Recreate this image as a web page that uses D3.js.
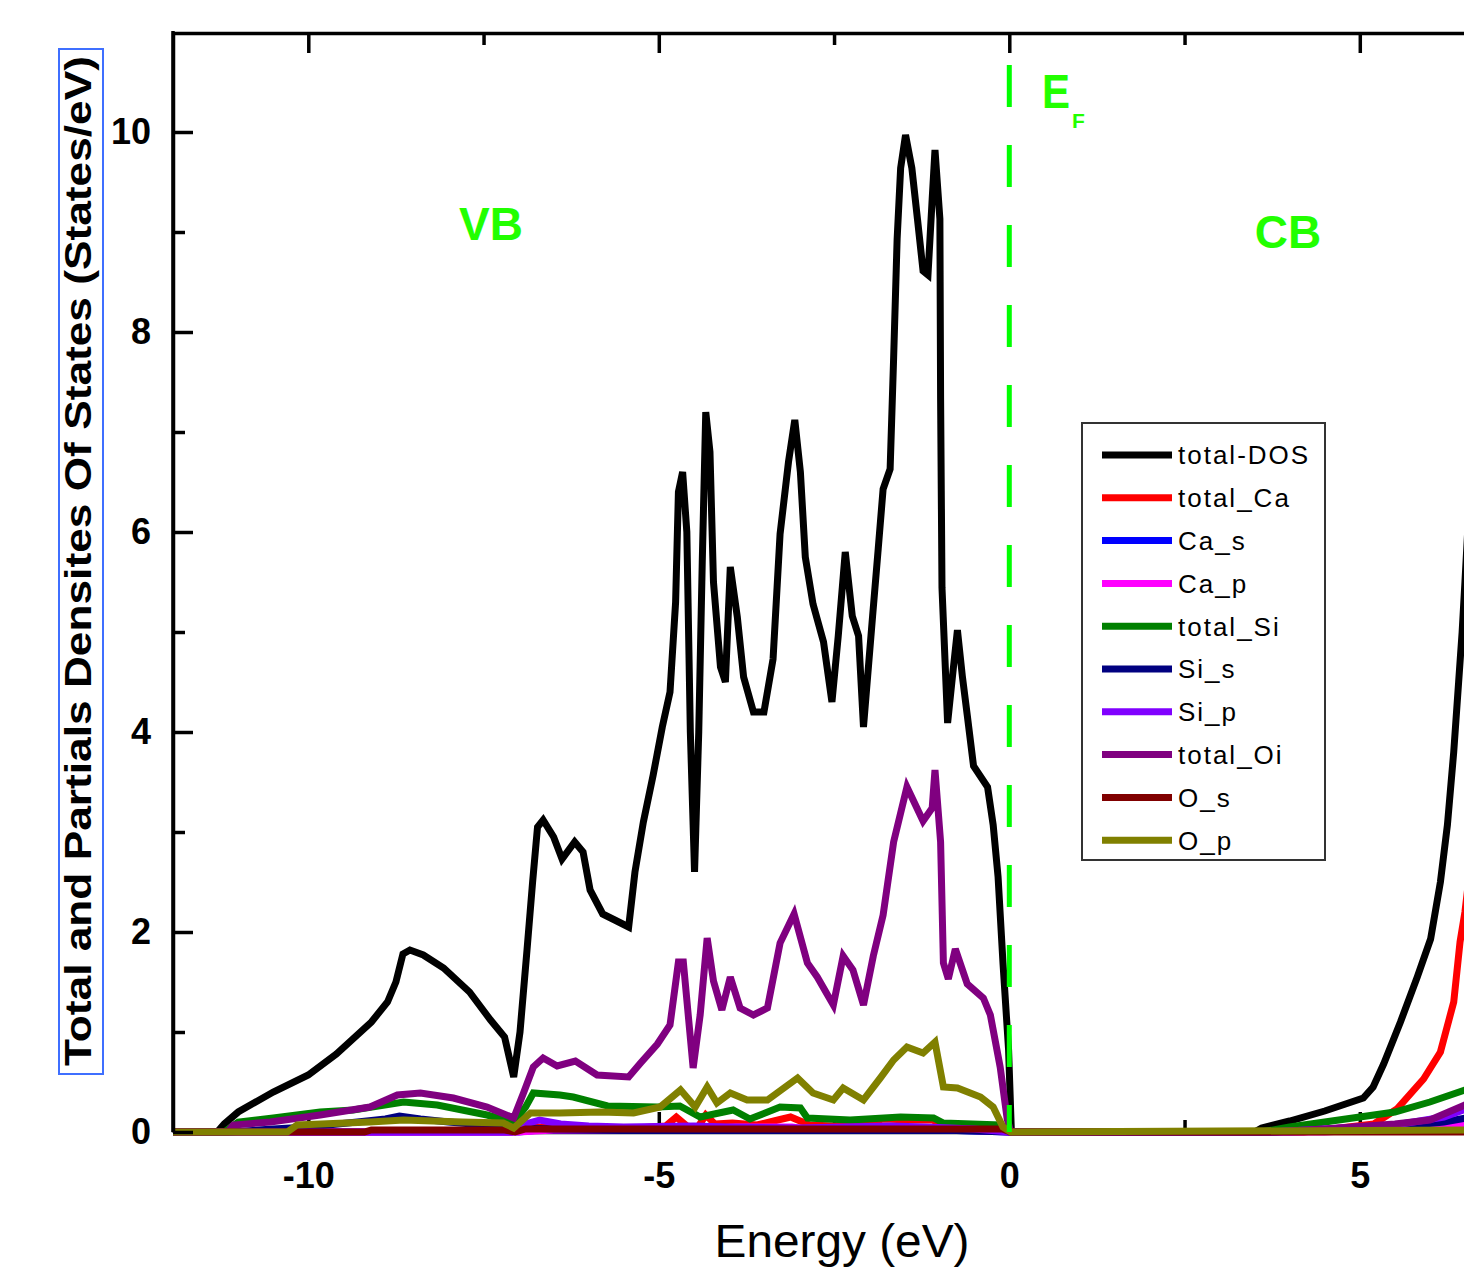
<!DOCTYPE html>
<html>
<head>
<meta charset="utf-8">
<script src="https://cdn.jsdelivr.net/npm/d3@7"></script>
<style>
  html, body { margin: 0; padding: 0; background: #fff; overflow: hidden; }
  svg { display: block; }
  text { font-family: "Liberation Sans", Arial, sans-serif; }
</style>
</head>
<body>
<svg id="dos" width="1464" height="1270"></svg>
<script>
// [energy (eV), DOS (states/eV)]
const totalDOS = [[-12,0],[-11.3,0],[-11.2,0.08],[-11.0,0.2],[-10.5,0.4],[-10.0,0.57],[-9.6,0.78],[-9.1,1.1],[-8.87,1.3],[-8.75,1.5],[-8.65,1.78],[-8.55,1.82],[-8.36,1.77],[-8.07,1.64],[-7.7,1.4],[-7.4,1.12],[-7.2,0.95],[-7.07,0.55],[-6.98,1.0],[-6.88,1.82],[-6.8,2.5],[-6.73,3.05],[-6.65,3.12],[-6.5,2.95],[-6.38,2.73],[-6.2,2.9],[-6.08,2.8],[-5.98,2.42],[-5.8,2.18],[-5.6,2.11],[-5.43,2.05],[-5.34,2.6],[-5.22,3.1],[-5.08,3.57],[-4.95,4.05],[-4.84,4.4],[-4.76,5.3],[-4.72,6.4],[-4.66,6.6],[-4.6,6.0],[-4.55,4.0],[-4.49,2.6],[-4.43,4.0],[-4.38,5.7],[-4.33,7.2],[-4.27,6.8],[-4.22,5.5],[-4.12,4.65],[-4.05,4.5],[-3.98,5.65],[-3.88,5.15],[-3.79,4.55],[-3.65,4.2],[-3.5,4.2],[-3.37,4.73],[-3.27,5.98],[-3.15,6.7],[-3.06,7.12],[-2.98,6.6],[-2.91,5.75],[-2.8,5.28],[-2.65,4.9],[-2.53,4.3],[-2.44,4.96],[-2.34,5.8],[-2.24,5.16],[-2.15,4.96],[-2.08,4.05],[-1.95,5.16],[-1.87,5.83],[-1.8,6.43],[-1.7,6.63],[-1.65,7.74],[-1.6,8.93],[-1.55,9.64],[-1.48,9.97],[-1.39,9.64],[-1.31,9.13],[-1.23,8.61],[-1.16,8.57],[-1.1,9.33],[-1.06,9.82],[-0.99,9.13],[-0.98,7.34],[-0.96,5.44],[-0.88,4.09],[-0.81,4.56],[-0.74,5.02],[-0.67,4.56],[-0.6,4.17],[-0.51,3.66],[-0.31,3.45],[-0.23,3.07],[-0.16,2.55],[-0.09,1.69],[-0.01,0.82],[0.03,0],[3.5,0],[3.6,0.04],[4.0,0.11],[4.5,0.21],[5.05,0.34],[5.19,0.45],[5.34,0.68],[5.58,1.1],[5.82,1.55],[6.01,1.93],[6.15,2.5],[6.25,3.07],[6.34,3.8],[6.41,4.5],[6.46,5.0],[6.5,5.5],[6.6,6.8]];
const totalCa = [[-12,0],[-7.1,0],[-6.95,0.06],[-6.5,0.04],[-5.5,0.03],[-4.9,0.06],[-4.75,0.15],[-4.6,0.06],[-4.45,0.04],[-4.33,0.17],[-4.2,0.08],[-3.95,0.09],[-3.6,0.07],[-3.3,0.12],[-3.12,0.15],[-2.95,0.1],[-2.85,0.07],[-2.5,0.06],[-2.0,0.1],[-1.8,0.13],[-1.4,0.12],[-1.1,0.12],[-0.95,0.08],[-0.5,0.06],[-0.1,0.05],[0.02,0],[4.2,0],[4.6,0.03],[5.2,0.08],[5.53,0.23],[5.91,0.53],[6.15,0.8],[6.34,1.3],[6.43,1.9],[6.5,2.2],[6.6,2.8]];
const caS = [[-12,0],[-7,0],[-6.7,0.02],[-4,0.02],[-1,0.02],[0,0],[4,0],[5,0.02],[6.6,0.05]];
const caP = [[-12,0],[-7,0],[-6.5,0.02],[-4.5,0.03],[-3.9,0.05],[-3.1,0.05],[-2.9,0.03],[-1,0.03],[0,0],[4.5,0],[6.6,0.08]];
const totalSi = [[-12,0],[-11.2,0],[-11.0,0.1],[-10.5,0.14],[-9.83,0.2],[-9.36,0.22],[-8.64,0.3],[-8.16,0.27],[-7.45,0.17],[-7.07,0.1],[-6.9,0.25],[-6.79,0.39],[-6.41,0.37],[-6.22,0.35],[-5.73,0.26],[-5.02,0.25],[-4.7,0.26],[-4.41,0.15],[-3.94,0.22],[-3.7,0.13],[-3.27,0.25],[-2.98,0.24],[-2.88,0.14],[-2.27,0.12],[-1.55,0.15],[-1.08,0.14],[-0.94,0.09],[-0.13,0.07],[0.02,0],[3.6,0],[4.0,0.05],[5.0,0.15],[5.5,0.2],[6.0,0.3],[6.5,0.42],[6.6,0.45]];
const siS = [[-12,0],[-11.1,0],[-10.5,0.03],[-10,0.05],[-9.3,0.1],[-8.9,0.13],[-8.7,0.16],[-8.4,0.13],[-8.0,0.1],[-7.5,0.07],[-7.1,0.03],[-6.9,0.04],[-6.5,0.03],[-5,0.02],[-1,0.02],[0,0],[3.7,0],[4.5,0.02],[5.5,0.05],[6.2,0.1],[6.6,0.15]];
const siP = [[-12,0],[-7.1,0],[-6.9,0.08],[-6.7,0.12],[-6.4,0.08],[-6.0,0.06],[-5.5,0.05],[-4.5,0.06],[-4.0,0.05],[-3.0,0.04],[-1.7,0.06],[-1.2,0.05],[-0.5,0.03],[0,0],[3.7,0],[4.5,0.03],[5.5,0.07],[6.2,0.15],[6.6,0.25]];
const totalOi = [[-12,0],[-11.15,0],[-11.07,0.07],[-10.54,0.1],[-9.83,0.17],[-9.12,0.25],[-8.73,0.37],[-8.4,0.39],[-7.93,0.34],[-7.45,0.25],[-7.07,0.14],[-6.93,0.39],[-6.79,0.65],[-6.65,0.74],[-6.45,0.66],[-6.19,0.71],[-5.88,0.57],[-5.43,0.55],[-5.26,0.69],[-5.02,0.88],[-4.84,1.07],[-4.72,1.7],[-4.65,1.7],[-4.51,0.64],[-4.41,1.17],[-4.31,1.94],[-4.22,1.51],[-4.1,1.22],[-3.98,1.55],[-3.84,1.24],[-3.65,1.17],[-3.45,1.24],[-3.27,1.89],[-3.07,2.18],[-2.88,1.69],[-2.74,1.55],[-2.51,1.27],[-2.37,1.76],[-2.23,1.62],[-2.08,1.27],[-1.94,1.76],[-1.8,2.17],[-1.65,2.9],[-1.46,3.45],[-1.23,3.11],[-1.1,3.24],[-1.06,3.62],[-0.98,2.9],[-0.94,1.69],[-0.87,1.53],[-0.77,1.83],[-0.6,1.48],[-0.37,1.34],[-0.27,1.17],[-0.13,0.65],[-0.03,0.13],[0.02,0],[3.7,0],[4.5,0.03],[5.5,0.08],[6.0,0.12],[6.5,0.27],[6.6,0.3]];
const oS = [[-12,0],[-9.2,0],[-9.1,0.02],[-7.2,0.02],[-7.05,0],[-6.9,0.03],[-0.1,0.03],[0.02,0],[6.6,0]];
const oP = [[-12,0],[-10.3,0],[-10.16,0.07],[-9.12,0.1],[-8.64,0.12],[-7.8,0.1],[-7.22,0.09],[-7.07,0.04],[-6.83,0.19],[-6.41,0.19],[-5.83,0.2],[-5.36,0.19],[-4.98,0.25],[-4.69,0.42],[-4.48,0.25],[-4.31,0.45],[-4.17,0.29],[-3.98,0.39],[-3.74,0.32],[-3.45,0.32],[-3.02,0.54],[-2.8,0.39],[-2.51,0.32],[-2.37,0.44],[-2.08,0.32],[-1.84,0.54],[-1.65,0.72],[-1.46,0.85],[-1.23,0.79],[-1.06,0.9],[-0.94,0.45],[-0.74,0.44],[-0.41,0.35],[-0.23,0.25],[-0.09,0.05],[0.02,0],[6.6,0.02]];

const seriesNames = ["total-DOS", "total_Ca", "Ca_s", "Ca_p", "total_Si", "Si_s", "Si_p", "total_Oi", "O_s", "O_p"];
const seriesColors = ["#000000", "#ff0000", "#0000ff", "#ff00ff", "#008000", "#000080", "#8000ff", "#800080", "#800000", "#808000"];
const seriesData = [totalDOS, totalCa, caS, caP, totalSi, siS, siP, totalOi, oS, oP];

const xMajorTicks = [-10, -5, 0, 5];
const xMinorTicks = [-7.5, -2.5, 2.5];
const yMajorTicks = [0, 2, 4, 6, 8, 10];
const yMinorTicks = [1, 3, 5, 7, 9];

const svg = d3.select("#dos");
const plotLeft = 173, plotTop = 32, plotBottom = 1132;

// 70.1 px per eV, plot runs past the right edge of the picture
const x = d3.scaleLinear().domain([-11.93, 7.5]).range([plotLeft, plotLeft + 19.43 * 70.1]);
const y = d3.scaleLinear().domain([0, 11]).range([plotBottom, plotTop]);

svg.append("defs").append("clipPath").attr("id", "plotclip")
  .append("rect")
    .attr("x", plotLeft).attr("y", plotTop)
    .attr("width", 1464 - plotLeft).attr("height", plotBottom - plotTop + 6);

const plainNum = d => String(d);   // plain hyphen, like the original

const axisStyle = g => {
  g.select(".domain").attr("stroke-width", 3.5);
  g.selectAll(".tick line").attr("stroke-width", 3.5);
  g.selectAll(".tick text")
    .attr("font-family", "'Liberation Sans', Arial, sans-serif")
    .attr("font-size", 36).attr("font-weight", "bold").attr("fill", "#000");
};

// bottom axis: ticks inward, drawn first so the curves cover it
svg.append("g")
    .attr("transform", `translate(0,${plotBottom})`)
    .call(d3.axisBottom(x).tickValues(xMajorTicks).tickSize(-20).tickSizeOuter(0).tickPadding(30).tickFormat(plainNum))
    .call(axisStyle);
svg.append("g")
    .attr("transform", `translate(0,${plotBottom})`)
    .call(d3.axisBottom(x).tickValues(xMinorTicks).tickSize(-12).tickSizeOuter(0).tickFormat(""))
    .call(g => g.select(".domain").remove())
    .call(axisStyle);

// curves
const line = d3.line().x(d => x(d[0])).y(d => y(d[1]));
svg.append("g").attr("clip-path", "url(#plotclip)")
  .selectAll("path")
  .data(seriesData)
  .join("path")
    .attr("d", line)
    .attr("fill", "none")
    .attr("stroke", (d, i) => seriesColors[i])
    .attr("stroke-width", 7)
    .attr("stroke-linejoin", "miter")
    .attr("stroke-miterlimit", 3);

// left and top axes
svg.append("g")
    .attr("transform", `translate(${plotLeft},0)`)
    .call(d3.axisLeft(y).tickValues(yMajorTicks).tickSize(-20).tickSizeOuter(0).tickPadding(22).tickFormat(plainNum))
    .call(axisStyle);
svg.append("g")
    .attr("transform", `translate(${plotLeft},0)`)
    .call(d3.axisLeft(y).tickValues(yMinorTicks).tickSize(-12).tickSizeOuter(0).tickFormat(""))
    .call(g => g.select(".domain").remove())
    .call(axisStyle);
svg.append("g")
    .attr("transform", `translate(0,${plotTop + 1})`)
    .call(d3.axisTop(x).tickValues(xMajorTicks).tickSize(-20).tickSizeOuter(0).tickFormat(""))
    .call(axisStyle);
svg.append("g")
    .attr("transform", `translate(0,${plotTop + 1})`)
    .call(d3.axisTop(x).tickValues(xMinorTicks).tickSize(-12).tickSizeOuter(0).tickFormat(""))
    .call(g => g.select(".domain").remove())
    .call(axisStyle);
svg.append("line")
    .attr("x1", plotLeft).attr("x2", plotLeft).attr("y1", plotTop - 1).attr("y2", plotBottom)
    .attr("stroke", "#000").attr("stroke-width", 3.5);

// Fermi level
svg.append("line")
    .attr("x1", x(0)).attr("x2", x(0))
    .attr("y1", plotTop + 1).attr("y2", plotBottom)
    .attr("stroke", "#00ff00").attr("stroke-width", 5)
    .attr("stroke-dasharray", "42,38").attr("stroke-dashoffset", 48);

const green = "#22ff00";
svg.append("text").attr("x", 1042).attr("y", 108)
    .attr("font-size", 48).attr("font-weight", "bold").attr("fill", green)
    .attr("textLength", 28).attr("lengthAdjust", "spacingAndGlyphs").text("E");
svg.append("text").attr("x", 1072).attr("y", 128)
    .attr("font-size", 21).attr("font-weight", "bold").attr("fill", green).text("F");
svg.append("text").attr("x", 491).attr("y", 240).attr("text-anchor", "middle")
    .attr("font-size", 46).attr("font-weight", "bold").attr("fill", green).text("VB");
svg.append("text").attr("x", 1288).attr("y", 248).attr("text-anchor", "middle")
    .attr("font-size", 46).attr("font-weight", "bold").attr("fill", green).text("CB");

// axis titles
svg.append("text")
    .attr("x", 842).attr("y", 1257).attr("text-anchor", "middle")
    .attr("font-size", 46).attr("textLength", 255).attr("lengthAdjust", "spacingAndGlyphs")
    .text("Energy (eV)");
svg.append("rect")
    .attr("x", 59).attr("y", 49).attr("width", 44).attr("height", 1025)
    .attr("fill", "none").attr("stroke", "#3f6fff").attr("stroke-width", 2);
svg.append("text")
    .attr("transform", "translate(91,561) rotate(-90)")
    .attr("text-anchor", "middle")
    .attr("font-size", 36).attr("font-weight", "bold")
    .attr("textLength", 1010).attr("lengthAdjust", "spacingAndGlyphs")
    .text("Total and Partials Densites Of States (States/eV)");

// legend
const legend = svg.append("g").attr("transform", "translate(1082,423)");
legend.append("rect")
    .attr("width", 243).attr("height", 437)
    .attr("fill", "#fff").attr("stroke", "#333").attr("stroke-width", 2);
const rows = legend.selectAll("g.row")
  .data(seriesNames)
  .join("g")
    .attr("class", "row")
    .attr("transform", (d, i) => `translate(0,${32 + i * 42.8})`);
rows.append("line")
    .attr("x1", 20).attr("x2", 90)
    .attr("stroke", (d, i) => seriesColors[i]).attr("stroke-width", 7);
rows.append("text")
    .attr("x", 96).attr("dy", "0.36em")
    .attr("font-size", 26).attr("letter-spacing", 2)
    .text(d => d);
</script>
</body>
</html>
